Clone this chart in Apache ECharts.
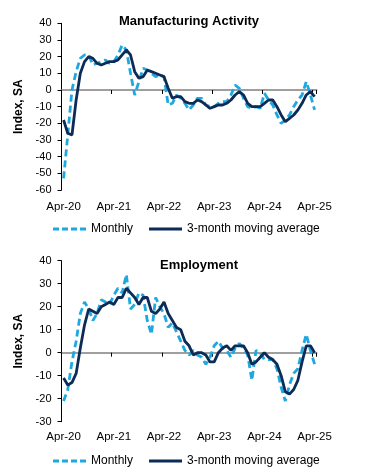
<!DOCTYPE html>
<html><head><meta charset="utf-8">
<script src="https://cdn.jsdelivr.net/npm/echarts@6/dist/echarts.min.js"></script>
<style>html,body{margin:0;padding:0;background:#fff}#c{width:390px;height:476px}</style>
</head><body><div id="c"></div>
<script>
// Months Apr-20 .. Apr-25 (61 monthly categories)
const monthNames = ['Jan','Feb','Mar','Apr','May','Jun','Jul','Aug','Sep','Oct','Nov','Dec'];
const categories = [];
for (let i = 0; i < 61; i++) {
  const k = 3 + i;
  categories.push(monthNames[k % 12] + '-' + (20 + Math.floor(k / 12)));
}
const tickLabels = ['Apr-20','Apr-21','Apr-22','Apr-23','Apr-24','Apr-25'];

// Manufacturing Activity
const mfgMonthly = [
  -53,-27,0,11,19,21,21,15,16,17,
  18,16,17,21,27,24,10,-3,5,13,
  12,10,8,9,8,-9,-8,-3,-5,-8,
  -12,-9,-5,-5,-9,-10,-10,-8,-7,-7,
  -3,3,1,-5,-10,-11,-10,-11,-2,-6,
  -9,-15,-20,-18,-15,-10,-6,-3,5,-3,
  -12
];
const mfgAvg = [
  -18,-26,-27,-6,10,17,20,19,16,15,
  16,17,17,18,21,24,21,11,7,8,
  12,11,10,9,8,1,-5,-4,-4,-7,
  -8,-8,-6,-7,-9,-11,-10,-9,-9,-8,
  -6,-3,-1,-3,-8,-10,-10,-10,-8,-6,
  -6,-10,-15,-19,-17,-15,-12,-8,-3,-1,
  -4
];

// Employment
const empMonthly = [
  -21,-16,-4,5,17,22,19,14,17,23,
  22,21,25,28,26,34,19,21,26,25,
  14,8,24,20,17,11,13,9,5,1,
  -1,1,-1,-2,-5,-2,3,5,2,1,
  -2,2,4,2,-1,-12,1,0,-3,-3,
  -3,-7,-15,-21,-14,-9,-7,1,8,1,
  -5
];
const empAvg = [
  -11,-14,-13,-9,2,12,19,18,17,20,
  21,22,21,24,24,28,26,24,21,24,
  24,18,17,19,22,17,14,11,10,5,
  3,-1,0,0,-1,-4,-4,0,2,3,
  1,3,3,3,0,-5,-4,-2,0,-2,
  -3,-5,-10,-17,-18,-16,-12,-4,3,3,
  0
];

const FONT = 'Liberation Sans, Arial, sans-serif';
const LIGHT = '#1DA8E0';
const DARK = '#0C2B56';

function yAxis(gi, min, max) {
  return {
    type: 'value', gridIndex: gi, min: min, max: max, interval: 10,
    name: 'Index, SA', nameLocation: 'middle', nameRotate: 90, nameGap: 30,
    nameTextStyle: { fontFamily: FONT, fontSize: 12, fontWeight: 'bold', color: '#000' },
    axisLine: { show: true, lineStyle: { color: '#000', width: 1 } },
    axisTick: { show: true, length: 4, lineStyle: { color: '#000' } },
    axisLabel: { fontFamily: FONT, fontSize: 11, color: '#000', margin: 10 },
    splitLine: { show: false }
  };
}
function xLabelAxis(gi, margin) {
  return {
    type: 'category', gridIndex: gi, data: categories, boundaryGap: true,
    axisLine: { show: false, onZero: false },
    axisTick: { show: false },
    axisLabel: { interval: 11, fontFamily: FONT, fontSize: 11.5, color: '#000', margin: margin,
      formatter: function (v) { return tickLabels.indexOf(v) >= 0 ? v : ''; } },
    splitLine: { show: false }
  };
}
function xZeroAxis(gi) {
  return {
    type: 'category', gridIndex: gi, data: categories, boundaryGap: true, position: 'bottom',
    axisLine: { show: true, onZero: true, lineStyle: { color: '#808080', width: 1.6 } },
    axisTick: { show: true, interval: 11, length: 4, lineStyle: { color: '#000', width: 1 } },
    axisLabel: { show: false },
    splitLine: { show: false }
  };
}
function lines(xi, yi, monthly, avg) {
  return [
    { name: 'Monthly', type: 'line', xAxisIndex: xi, yAxisIndex: yi, data: monthly,
      symbol: 'none', smooth: false, z: 3,
      lineStyle: { color: LIGHT, width: 2.8, type: [7, 4] }, itemStyle: { color: LIGHT } },
    { name: '3-month moving average', type: 'line', xAxisIndex: xi, yAxisIndex: yi, data: avg,
      symbol: 'none', smooth: false, z: 4,
      lineStyle: { color: DARK, width: 2.8 }, itemStyle: { color: DARK } }
  ];
}
const dashIcon = 'path://M0,0h6v3h-6z M9,0h6v3h-6z M18,0h6v3h-6z M27,0h6v3h-6z';
const solidIcon = 'path://M0,0h33v3h-33z';
function legend(top) {
  return {
    top: top, left: 48, itemWidth: 33, itemHeight: 14, itemGap: 16,
    textStyle: { fontFamily: FONT, fontSize: 12, color: '#000' },
    data: [
      { name: 'Monthly', icon: dashIcon, itemStyle: { color: LIGHT } },
      { name: '3-month moving average', icon: solidIcon, itemStyle: { color: DARK } }
    ]
  };
}

const chart = echarts.init(document.getElementById('c'), null, { renderer: 'canvas' });
chart.setOption({
  animation: false,
  backgroundColor: '#fff',
  graphic: [
    { type: 'text', x: 189, y: 21, style: { text: 'Manufacturing Activity', fontFamily: FONT, fontSize: 13, fontWeight: 'bold', fill: '#000', textAlign: 'center', textVerticalAlign: 'middle' } },
    { type: 'text', x: 199, y: 265, style: { text: 'Employment', fontFamily: FONT, fontSize: 13, fontWeight: 'bold', fill: '#000', textAlign: 'center', textVerticalAlign: 'middle' } }
  ],
  grid: [
    { left: 61.5, top: 23.3, width: 255.2, height: 166.7 },
    { left: 61.5, top: 260.7, width: 255.2, height: 161 }
  ],
  xAxis: [xLabelAxis(0, 11), xZeroAxis(0), xLabelAxis(1, 9), xZeroAxis(1)],
  yAxis: [yAxis(0, -60, 40), yAxis(1, -30, 40)],
  legend: [legend(218), legend(450)],
  series: [].concat(lines(0, 0, mfgMonthly, mfgAvg), lines(2, 1, empMonthly, empAvg))
});
</script>
</body></html>
